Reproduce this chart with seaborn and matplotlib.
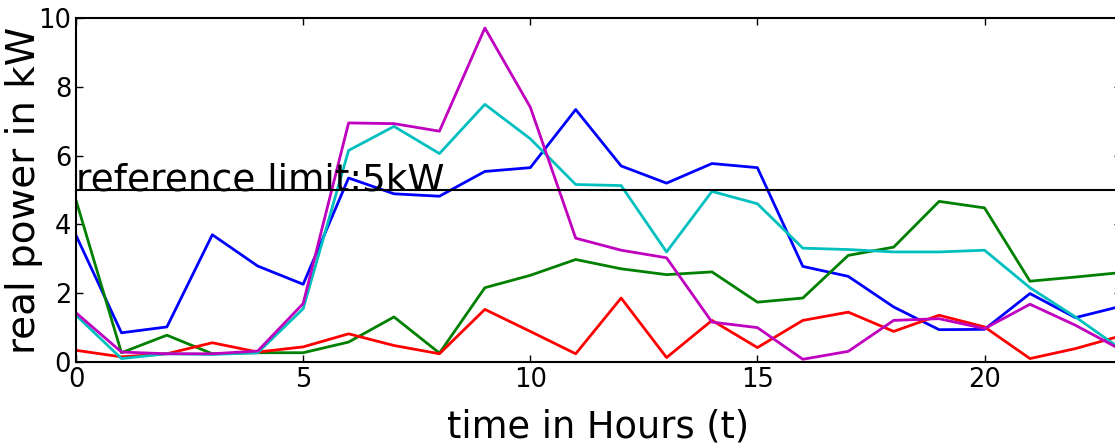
import seaborn as sns
import pandas as pd
import matplotlib.pyplot as plt

hours = list(range(24))
blue = [3.68, 0.85, 1.02, 3.70, 2.79, 2.26, 5.35, 4.89, 4.82, 5.54, 5.65, 7.34,
        5.70, 5.20, 5.77, 5.65, 2.78, 2.49, 1.60, 0.94, 0.95, 1.99, 1.29, 1.62]
green = [4.70, 0.27, 0.78, 0.24, 0.27, 0.27, 0.58, 1.31, 0.26, 2.16, 2.52, 2.98,
         2.71, 2.54, 2.62, 1.74, 1.86, 3.10, 3.34, 4.67, 4.48, 2.35, 2.47, 2.60]
red = [0.34, 0.15, 0.24, 0.56, 0.29, 0.44, 0.82, 0.48, 0.24, 1.53, 0.89, 0.24,
       1.86, 0.13, 1.21, 0.42, 1.21, 1.45, 0.89, 1.36, 1.02, 0.10, 0.39, 0.76]
cyan = [1.36, 0.10, 0.24, 0.22, 0.27, 1.55, 6.15, 6.85, 6.06, 7.49, 6.49, 5.16,
        5.13, 3.20, 4.96, 4.60, 3.31, 3.27, 3.20, 3.20, 3.25, 2.16, 1.31, 0.38]
magenta = [1.43, 0.29, 0.24, 0.24, 0.32, 1.70, 6.95, 6.93, 6.71, 9.71, 7.41, 3.60,
           3.25, 3.03, 1.16, 1.00, 0.08, 0.31, 1.21, 1.26, 0.97, 1.68, 1.07, 0.36]
limit = 5

series = {"b": blue, "g": green, "r": red, "c": cyan, "m": magenta}
df = pd.concat([pd.DataFrame({"t": hours, "kW": v, "s": k}) for k, v in series.items()])
palette = {"b": (0, 0, 1), "g": (0, 0.5, 0), "r": (1, 0, 0),
           "c": (0, 0.75, 0.75), "m": (0.75, 0, 0.75)}

sns.set_style("ticks", {"xtick.direction": "in", "ytick.direction": "in",
                        "axes.edgecolor": "black", "text.color": "black",
                        "axes.labelcolor": "black", "xtick.color": "black",
                        "ytick.color": "black"})
plt.rcParams['font.family'] = ['DejaVu Sans']

fig = plt.figure(figsize=(11.15, 4.43), dpi=100)
ax = fig.add_axes([0.0682, 0.1828, 0.937, 0.7765])
sns.lineplot(data=df, x="t", y="kW", hue="s", palette=palette, linewidth=2,
             legend=False, ax=ax)
ax.axhline(limit, color="black", linewidth=1.5)
ax.text(0, limit, "reference limit:5kW", fontsize=27, va="baseline", ha="left")

ax.set_xlim(0, 23)
ax.set_ylim(0, 10)
ax.set_xticks([0, 5, 10, 15, 20])
ax.set_yticks([0, 2, 4, 6, 8, 10])
ax.tick_params(labelsize=18.5, top=True, right=True, length=5, width=1)
ax.set_xlabel("time in Hours (t)", fontsize=26.5)
ax.set_ylabel("real power in kW", fontsize=28)
ax.xaxis.set_label_coords(0.5, -0.134)
ax.yaxis.set_label_coords(-0.032, 0.5)
for sp in ax.spines.values():
    sp.set_linewidth(1.5)

fig.savefig("out.png", dpi=100)
